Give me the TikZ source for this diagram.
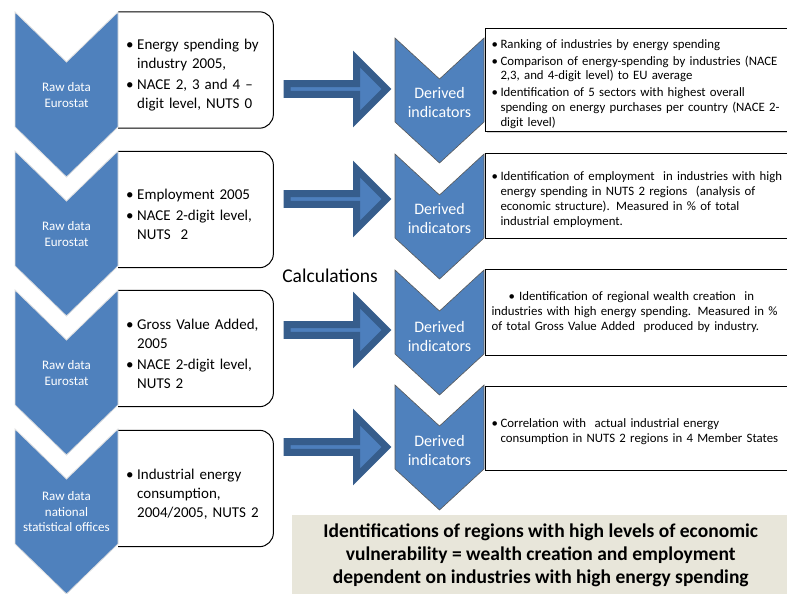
\documentclass[tikz,border=0pt]{standalone}
\usepackage{fontspec}
\setmainfont{Carlito}
\usetikzlibrary{shapes.arrows, shadows}

\definecolor{chevblue}{RGB}{79,129,189}
\definecolor{arrowedge}{RGB}{54,93,140}
\definecolor{arrowfill}{RGB}{77,127,189}
\definecolor{notebg}{RGB}{232,230,218}

\tikzstyle{rawchev} = [fill=chevblue, draw=black!12, line width=0.8pt]
\tikzstyle{derchev} = [fill=chevblue, draw=black!65, line width=0.6pt]
\tikzstyle{rawtext} = [text=white, align=center, font=\fontsize{13}{15.5}\selectfont]
\tikzstyle{dertext} = [text=white, align=center, font=\fontsize{16}{19}\selectfont]
\tikzstyle{inbox} = [rectangle, anchor=west, minimum height=116pt, text width=139pt, inner xsep=8pt, align=left, font=\fontsize{15}{19}\selectfont]
\tikzstyle{boxline} = [draw=black, line width=1pt, rounded corners=14pt]
\tikzstyle{outbox} = [rectangle, anchor=west, draw=black, line width=1pt, fill=white, text width=294pt, inner xsep=6pt, align=left, font=\fontsize{12.8}{14.8}\selectfont, drop shadow={opacity=0.35, shadow xshift=1.2pt, shadow yshift=-1.2pt}]
\tikzstyle{calcarrow} = [single arrow, single arrow head extend=16pt, minimum height=99.5pt, minimum width=60pt, inner sep=0pt, anchor=west, fill=arrowfill, draw=arrowedge, line width=7pt]
\tikzstyle{summary} = [rectangle, anchor=north west, fill=notebg, minimum width=497pt, minimum height=80pt, align=center, font=\bfseries\fontsize{19.5}{23}\selectfont]

% chevron: [style] centre x, top y, half width, side length, notch depth
\newcommand{\chevron}[6][]{%
  \draw[#1] (#2-#4,#3) -- (#2,#3+#6) -- (#2+#4,#3) -- (#2+#4,#3+#5)
    -- (#2,#3+#5+#6) -- (#2-#4,#3+#5) -- cycle;}

% bullet items with hanging indent (break lines with \newline, end the text with \par)
\newcommand{\itm}{\par\vspace{2pt}\hangindent=11pt\hangafter=1\noindent\makebox[11pt][l]{\textbullet}}
\newcommand{\ritm}{\par\vspace{2pt}\hangindent=9pt\hangafter=1\noindent\makebox[9pt][l]{\textbullet}}

\begin{document}
\begin{tikzpicture}[x=1pt, y=-1pt]
\useasboundingbox (0,0) rectangle (787,594);

% raw data boxes (left edge sits under the chevrons)
\node (in1) [inbox] at (118,70) {\itm Energy spending by\newline industry 2005,\itm NACE 2, 3 and 4 --\newline digit level, NUTS 0\par};
\node (in2) [inbox] at (118,209.5) {\itm Employment 2005\itm NACE 2-digit level,\newline NUTS~~2\par};
\node (in3) [inbox] at (118,348.5) {\itm Gross Value Added,\newline 2005\itm NACE 2-digit level,\newline NUTS 2\par};
\node (in4) [inbox] at (118,488.5) {\itm Industrial energy\newline consumption,\newline 2004/2005, NUTS 2\par};
\foreach \b in {in1,in2,in3,in4}
  \draw [boxline] (\b.north west) -- (\b.north east) -- (\b.south east) -- (\b.south west);

% raw data chevrons
\foreach \t in {12,151,290,429}
  \chevron[rawchev]{66.5}{\t}{51.5}{115}{50};
\node (raw1) [rawtext] at (66.5,95) {Raw data\\ Eurostat};
\node (raw2) [rawtext] at (66.5,234) {Raw data\\ Eurostat};
\node (raw3) [rawtext] at (66.5,373) {Raw data\\ Eurostat};
\node (raw4) [rawtext] at (66.5,512) {Raw data\\ national\\ statistical offices};

% indicator boxes
\node (out1) [outbox, minimum height=96pt] at (485,80) {\ritm Ranking of industries by energy spending\ritm Comparison of energy-spending by industries (NACE\newline 2,3, and 4-digit level) to EU average\ritm Identification of 5 sectors with highest overall\newline spending on energy purchases per country (NACE 2-\newline digit level)\par};
\node (out2) [outbox, minimum height=85pt] at (485,195.5) {\ritm Identification of employment~ in industries with high\newline energy spending in NUTS 2 regions~ (analysis of\newline economic structure). Measured in \% of total\newline industrial employment.\par};
\node (out3) [outbox, minimum height=86pt] at (485,312) {\hspace*{17pt}\textbullet\ Identification of regional wealth creation~ in\newline industries with high energy spending. Measured in \%\newline of total Gross Value Added~ produced by industry.\par};
\node (out4) [outbox, minimum height=84pt] at (485,428) {\ritm Correlation with~ actual industrial energy\newline consumption in NUTS 2 regions in 4 Member States\par};

% derived indicator chevrons
\foreach \t in {38,154,270,385}
  \chevron[derchev]{439.5}{\t}{44.5}{84}{41};
\node (der1) [dertext] at (439.5,103) {Derived\\ indicators};
\node (der2) [dertext] at (439.5,219) {Derived\\ indicators};
\node (der3) [dertext] at (439.5,337) {Derived\\ indicators};
\node (der4) [dertext] at (439.5,450) {Derived\\ indicators};

% calculation arrows
\node (calc1) [calcarrow] at (283.5,89) {};
\node (calc2) [calcarrow] at (283.5,199) {};
\node (calc3) [calcarrow] at (283.5,330) {};
\node (calc4) [calcarrow] at (283.5,447) {};
\node (calc) at (330,276) {\fontsize{19.5}{22}\selectfont Calculations};

% conclusion
\node (result) [summary] at (292,515) {Identifications of regions with high levels of economic\\ vulnerability = wealth creation and employment\\ dependent on industries with high energy spending};

\end{tikzpicture}
\end{document}
